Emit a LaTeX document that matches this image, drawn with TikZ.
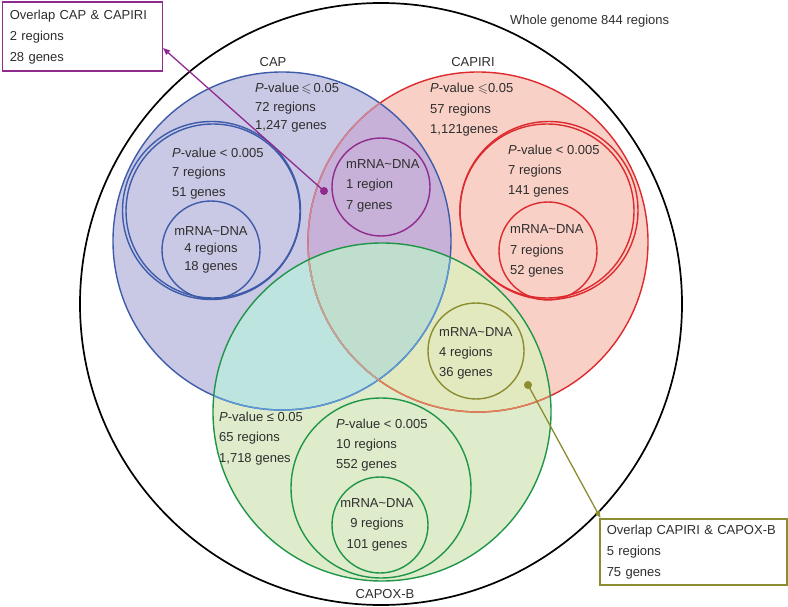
\documentclass[tikz,border=0pt]{standalone}
\usepackage{fontspec}
\setmainfont{Liberation Sans}
\usepackage{amssymb}
\usetikzlibrary{arrows.meta}
\definecolor{tc}{HTML}{2E2E2E}
\definecolor{lavF}{HTML}{C9C9E6}
\definecolor{pinkF}{HTML}{F9D0C6}
\definecolor{grnF}{HTML}{DFECCB}
\definecolor{purF}{HTML}{C8B1D8}
\definecolor{cyaF}{HTML}{BDE4DE}
\definecolor{yelF}{HTML}{E3E9BF}
\definecolor{triF}{HTML}{C0DECD}
\definecolor{blueL}{HTML}{3E5BA9}
\definecolor{redL}{HTML}{DD2A2E}
\definecolor{greenL}{HTML}{1F9548}
\definecolor{purL}{HTML}{8F2B8E}
\definecolor{oliL}{HTML}{8C8C30}
\definecolor{redCap}{HTML}{C88A9A}
\definecolor{blueCpx}{HTML}{5B9BD5}
\definecolor{redCpx}{HTML}{D9845A}
\definecolor{redBoth}{HTML}{B9A89C}
\def\capC{(282,241) circle[radius=169pt]}
\def\capiriC{(478,242) circle[radius=170pt]}
\def\capoxC{(382,412) circle[radius=169pt]}
\tikzset{
  txt/.style={text=tc, inner sep=0pt, font=\fontsize{13}{#1}\selectfont, align=left},
  ring/.style={line width=1.4pt},
  infobox/.style={draw, line width=1.5pt, fill=white, text=tc, align=left,
    font=\fontsize{13}{21}\selectfont, anchor=north west, inner xsep=7pt},
  conn/.style={line width=1.3pt, -{Triangle[length=7pt,width=5.5pt]}}
}
\begin{document}
\begin{tikzpicture}[x=1pt,y=-1pt]
\useasboundingbox (0,0) rectangle (788,607);
% whole genome
\draw[line width=1.7pt, black] (381,304) circle[radius=301pt];
% region fills
\fill[lavF] \capC;
\fill[pinkF] \capiriC;
\fill[grnF] \capoxC;
\begin{scope}\clip \capC; \fill[purF] \capiriC; \end{scope}
\begin{scope}\clip \capC; \fill[cyaF] \capoxC; \end{scope}
\begin{scope}\clip \capiriC; \fill[yelF] \capoxC; \end{scope}
\begin{scope}\clip \capC; \clip \capiriC; \fill[triF] \capoxC; \end{scope}
% outlines
\draw[ring, blueL] \capC;
\draw[ring, redL] \capiriC;
\begin{scope}\clip \capC; \draw[ring, redCap] \capiriC; \end{scope}
\begin{scope}\clip \capoxC; \draw[ring, blueCpx] \capC; \draw[ring, redCpx] \capiriC; \end{scope}
\begin{scope}\clip \capoxC; \clip \capC; \draw[ring, redBoth] \capiriC; \end{scope}
\draw[ring, greenL] \capoxC;
% inner circles
\draw[ring, blueL] (213,211) circle[radius=87pt];
\draw[ring, blueL] (211.5,210.5) circle[radius=89pt];
\draw[ring, blueL] (211,250) circle[radius=49pt];
\draw[ring, redL] (547,211) circle[radius=87pt];
\draw[ring, redL] (549,210.5) circle[radius=89pt];
\draw[ring, redL] (548,251) circle[radius=49pt];
\draw[ring, purL] (381,187) circle[radius=49pt];
\draw[ring, oliL] (476,351) circle[radius=48pt];
\draw[ring, greenL] (381,488) circle[radius=90pt];
\draw[ring, greenL] (380,525) circle[radius=48pt];
% labels
\node[txt=20, anchor=west] (whole) at (510,21) {Whole genome 844 regions};
\node[txt=20] (capL) at (273,62) {CAP};
\node[txt=20] (capiriL) at (473,62) {CAPIRI};
\node[txt=20, fill=white, inner xsep=3pt, inner ysep=2pt] (capoxL) at (385,594) {CAPOX-B};
% texts
\node[txt=18.5, anchor=west] (t1) at (255,108) {\textit{P}-value\,$\leqslant$\,0.05\\72 regions\\1,247 genes};
\node[txt=19.5, anchor=west] (t2) at (172,173.5) {\textit{P}-value < 0.005\\7 regions\\51 genes};
\node[txt=17.5, align=center] (t3) at (211,249.5) {mRNA\textasciitilde DNA\\4 regions\\18 genes};
\node[txt=20.5, anchor=west] (t4) at (346,185.5) {mRNA\textasciitilde DNA\\1 region\\7 genes};
\node[txt=20.5, anchor=west] (t5) at (430,110) {\textit{P}-value $\leqslant$0.05\\57 regions\\1,121genes};
\node[txt=20, anchor=west] (t6) at (508,171) {\textit{P}-value < 0.005\\7 regions\\141 genes};
\node[txt=20.5, anchor=west] (t7) at (510,251) {mRNA\textasciitilde DNA\\7 regions\\52 genes};
\node[txt=20, anchor=west] (t8) at (439,353) {mRNA\textasciitilde DNA\\4 regions\\36 genes};
\node[txt=20.5, anchor=west] (t9) at (219,438.5) {\textit{P}-value ≤ 0.05\\65 regions\\1,718 genes};
\node[txt=20, anchor=west] (t10) at (336,445) {\textit{P}-value < 0.005\\10 regions\\552 genes};
\node[txt=20.5, align=center] (t11) at (377,524.5) {mRNA\textasciitilde DNA\\9 regions\\101 genes};
% boxes
\node[infobox, draw=purL, minimum width=160pt, minimum height=69pt, text width=145pt] (capbox) at (1.5,1.5)
  {Overlap CAP \& CAPIRI\\2 regions\\28 genes};
\node[infobox, draw=oliL, minimum width=187pt, minimum height=66pt, text width=173pt] (olibox) at (599,518)
  {Overlap CAPIRI \& CAPOX-B\\5 regions\\75 genes};
% connectors
\coordinate (pdot) at (324,191);
\coordinate (odot) at (528,385);
\fill[purL] (pdot) circle[radius=4pt];
\fill[oliL] (odot) circle[radius=4pt];
\draw[conn, purL] (pdot) -- (capbox.-8.5);
\draw[conn, oliL] (odot) -- (olibox.160);
\end{tikzpicture}
\end{document}
